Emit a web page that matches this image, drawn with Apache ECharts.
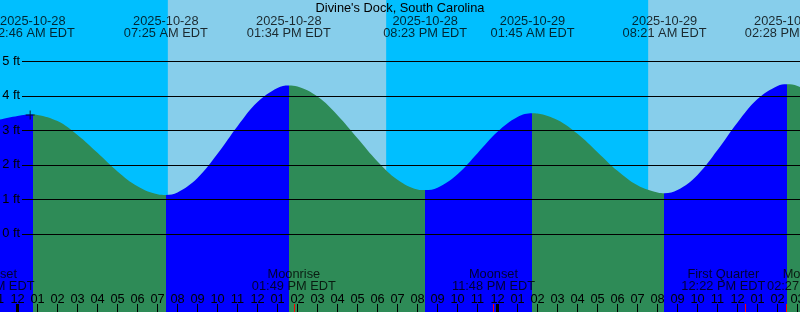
<!DOCTYPE html>
<html><head><meta charset="utf-8">
<script src="https://cdn.jsdelivr.net/npm/echarts@6/dist/echarts.min.js"></script>
<style>html,body{margin:0;padding:0;background:#00BFFF;}#c{width:800px;height:312px;}</style>
</head><body><div id="c"></div>
<script>
// ---------- data ----------
const chartTitle = "Divine's Dock, South Carolina";
const tideTimes = ['2025-10-28 00:46','2025-10-28 07:25','2025-10-28 13:34','2025-10-28 20:23','2025-10-29 01:45','2025-10-29 08:21','2025-10-29 14:28'];
const tideFt = [3.46, 1.13, 4.30, 1.27, 3.50, 1.18, 4.34];
// hourly readings, first one at hourlyStart, then one per hour
const hourlyStart = '2025-10-27 23:00';
const hourlyFt = [3.30, 3.42, 3.45, 3.27, 2.87, 2.35, 1.81, 1.38, 1.15, 1.20,
                  1.62, 2.32, 3.12, 3.82, 4.23, 4.27, 3.98, 3.44, 2.77, 2.10,
                  1.57, 1.29, 1.34, 1.73, 2.34, 2.96, 3.39, 3.49, 3.30, 2.90,
                  2.37, 1.83, 1.41, 1.20, 1.27, 1.71, 2.43, 3.23, 3.91, 4.29,
                  4.29, 3.97];
const sunriseTimes = ['2025-10-28 07:31', '2025-10-29 07:32'];
const sunsetTimes = ['2025-10-28 18:26', '2025-10-29 18:25'];
const moonEvents = ['Moonset', 'Moonrise', 'Moonset', 'First Quarter', 'Moonrise'];
const moonTimes = ['2025-10-27 22:45', '2025-10-28 13:49', '2025-10-28 23:48', '2025-10-29 12:22', '2025-10-29 14:27'];
const midnightTimes = ['2025-10-28 00:00', '2025-10-29 00:00'];
const nowTime = '2025-10-28 00:38';
const nowFt = 3.45;
const ftTicks = [0, 1, 2, 3, 4, 5];

// layout only: horizontal nudges that keep crowded event labels apart (px)
const moonLabelShift = [0, 0, 0, -21.5, 22.5];

// ---------- helpers ----------
function hoursOf(s) {
  const [d, hm] = s.split(' ');
  const day = Number(d.slice(8, 10));
  const [h, m] = hm.split(':').map(Number);
  return (day - 28) * 24 + h + m / 60;
}
function clock12(s) {
  const hm = s.split(' ')[1];
  let [h, m] = hm.split(':').map(Number);
  const ap = h < 12 ? 'AM' : 'PM';
  let h12 = h % 12; if (h12 === 0) h12 = 12;
  return String(h12).padStart(2, '0') + ':' + String(m).padStart(2, '0') + ' ' + ap + ' EDT';
}
const FONT = 'Liberation Sans';
const FS = 12.8;
const NIGHT = '#00BFFF', DAY = '#87CEEB', RISING = '#0000FF', FALLING = '#2E8B57';
const X_MIN = -3, X_MAX = 40;

// tide series points: hourly readings + extremes
const startH = hoursOf(hourlyStart);
let pts = hourlyFt.map((v, i) => [startH + i, v]);
tideTimes.forEach((t, i) => pts.push([hoursOf(t), tideFt[i]]));
pts.sort((a, b) => a[0] - b[0]);

// rising / falling pieces
const tH = tideTimes.map(hoursOf);
const pieces = [];
pieces.push({ lt: tH[0], color: tideFt[0] > tideFt[1] ? RISING : FALLING });
for (let i = 1; i < tH.length; i++) {
  pieces.push({ gte: tH[i - 1], lt: tH[i], color: tideFt[i] > tideFt[i - 1] ? RISING : FALLING });
}
const last = tH.length - 1;
pieces.push({ gte: tH[last], color: tideFt[last] > tideFt[last - 1] ? FALLING : RISING });

const dayBands = sunriseTimes.map((s, i) => [
  { xAxis: Math.max(hoursOf(s), X_MIN) },
  { xAxis: Math.min(hoursOf(sunsetTimes[i]), X_MAX) }
]);

const hourLabel = v => {
  const h = ((Math.round(v) % 24) + 24) % 24;
  let h12 = h % 12; if (h12 === 0) h12 = 12;
  return String(h12).padStart(2, '0');
};

const txt = { fontFamily: FONT, fontSize: FS, color: '#000' };
const G = { outerBoundsMode: 'none', containLabel: false };

const option = {
  backgroundColor: NIGHT,
  animation: false,
  title: {
    text: chartTitle, left: 'center', top: 2, padding: 0,
    textStyle: Object.assign({ fontWeight: 'normal', lineHeight: FS }, txt)
  },
  grid: [
    Object.assign({ left: -42.5, right: -17.5, top: -7.6, bottom: -25.4 }, G),   // tide
    Object.assign({ left: 22, right: 0, top: 61.4, bottom: 78.1 }, G),           // ft lines
    Object.assign({ left: -42.5, right: -17.5, bottom: 0, height: 8 }, G),       // hour ticks
    Object.assign({ left: -42.5, right: -17.5, top: 40.5, height: 10 }, G)       // tide labels
  ],
  xAxis: [
    { gridIndex: 0, type: 'value', min: X_MIN, max: X_MAX, show: false },
    { gridIndex: 1, type: 'value', min: 0, max: 1, show: false },
    { gridIndex: 2, type: 'value', min: X_MIN, max: X_MAX, interval: 1, z: 10,
      axisLine: { show: false },
      axisTick: { show: true, inside: true, length: 8, lineStyle: { color: '#000', width: 1 } },
      axisLabel: Object.assign({ inside: true, margin: 6, lineHeight: FS, showMinLabel: true, showMaxLabel: true,
        formatter: hourLabel }, txt),
      splitLine: { show: false } },
    { gridIndex: 3, type: 'value', min: X_MIN, max: X_MAX, show: false }
  ],
  yAxis: [
    { gridIndex: 0, type: 'value', min: -3, max: 7, show: false },
    { gridIndex: 1, type: 'value', min: ftTicks[0], max: ftTicks[ftTicks.length - 1], interval: 1, z: 10,
      axisLine: { show: false }, axisTick: { show: false },
      axisLabel: Object.assign({ margin: 2, formatter: '{value} ft' }, txt),
      splitLine: { show: true, lineStyle: { color: '#000', width: 1 } } },
    { gridIndex: 2, type: 'value', min: 0, max: 1, show: false },
    { gridIndex: 3, type: 'value', min: 0, max: 1, show: false }
  ],
  visualMap: {
    type: 'piecewise', show: false, dimension: 0, seriesIndex: 0, pieces: pieces
  },
  series: [
    {
      type: 'line', xAxisIndex: 0, yAxisIndex: 0, data: pts, smooth: 0.4,
      showSymbol: false, symbol: 'none', lineStyle: { width: 0 },
      areaStyle: { opacity: 1, origin: 'start' }, z: 2, silent: true,
      markArea: { silent: true, itemStyle: { color: DAY, opacity: 1 }, data: dayBands }
    },
    {
      type: 'scatter', xAxisIndex: 0, yAxisIndex: 0, data: [[hoursOf(nowTime), nowFt]],
      symbol: 'path://M0,4H9V5H0ZM4,0H5V9H4Z', symbolSize: 9,
      itemStyle: { color: '#000' }, z: 12, silent: true
    },
    {
      type: 'scatter', xAxisIndex: 3, yAxisIndex: 3, silent: true, z: 12,
      data: tideTimes.map(t => ({ value: [hoursOf(t), 1], name: t })),
      symbolSize: 1, itemStyle: { color: 'rgba(0,0,0,0)' },
      label: Object.assign({ show: true, position: 'top', distance: 0.5, lineHeight: 12.3, align: 'center',
        formatter: p => p.name.split(' ')[0] + '\n' + clock12(p.name) }, txt)
    },
    {
      type: 'scatter', xAxisIndex: 2, yAxisIndex: 2, silent: true, z: 12, clip: false,
      data: moonTimes.map((t, i) => ({ value: [hoursOf(t), 1], name: moonEvents[i], time: t,
        label: { offset: [moonLabelShift[i], 0] } })),
      symbolSize: 1, itemStyle: { color: 'rgba(0,0,0,0)' },
      label: Object.assign({ show: true, position: 'top', distance: 11.4, lineHeight: 11.8, align: 'center',
        formatter: p => p.name + '\n' + clock12(p.data.time) }, txt),
      markLine: {
        silent: true, symbol: ['none', 'none'], label: { show: false }, z: 11,
        data: midnightTimes.map(t => ({ xAxis: hoursOf(t), lineStyle: { color: '#000', width: 3, type: 'solid' } }))
          .concat(moonTimes.map(t => ({ xAxis: hoursOf(t), lineStyle: { color: '#FF0000', width: 1, type: 'solid' } })))
      }
    }
  ]
};
const chart = echarts.init(document.getElementById('c'), null, { renderer: 'canvas' });
chart.setOption(option);
</script>
</body></html>
